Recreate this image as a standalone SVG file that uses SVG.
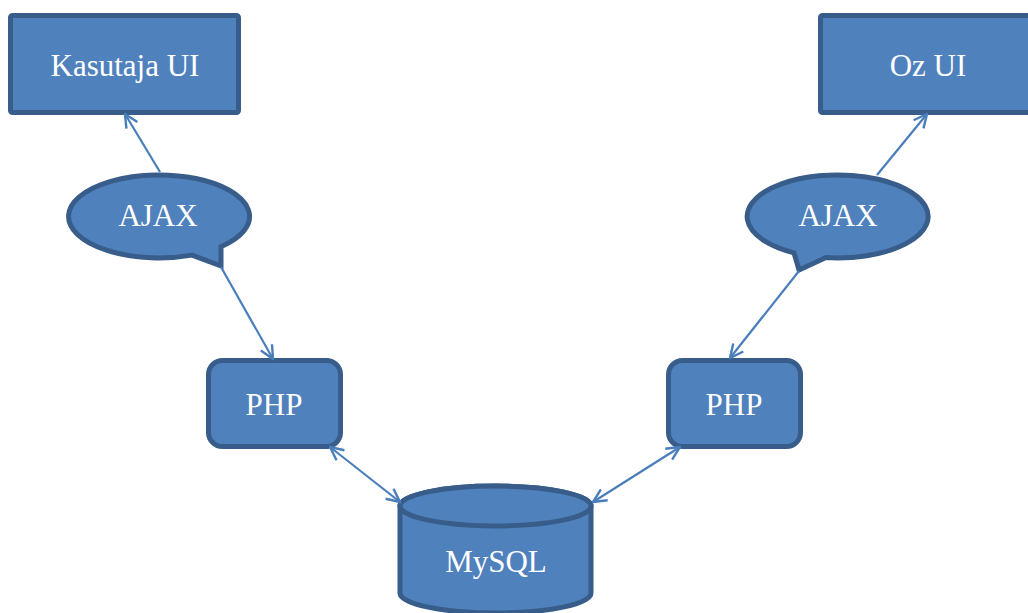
<svg xmlns="http://www.w3.org/2000/svg" width="1028" height="613" viewBox="0 0 1028 613">
<style>
.shape{fill:#4F81BD;stroke:#385D8A;stroke-width:5}
.lbl{font-family:"Liberation Serif","Times New Roman",serif;font-size:31px;fill:#FFFFFF;text-anchor:middle}
.conn{fill:none;stroke:#4A7EBB;stroke-width:2.2}
</style>
<defs>
<marker id="arr" viewBox="0 0 12 12" refX="11" refY="6" markerWidth="16" markerHeight="16" markerUnits="userSpaceOnUse" orient="auto-start-reverse">
<path d="M1,1.2 L11,6 L1,10.8" fill="none" stroke="#4A7EBB" stroke-width="1.8"/>
</marker>
</defs>
<rect width="1028" height="613" fill="#FFFFFF"/>
<g id="kasutaja-ui">
<rect class="shape" x="10.5" y="15.5" width="228" height="97" rx="2"/>
<text class="lbl" x="125" y="76">Kasutaja UI</text>
</g>
<g id="oz-ui">
<rect class="shape" x="820.5" y="15.5" width="215" height="97" rx="2"/>
<text class="lbl" x="928" y="76">Oz UI</text>
</g>
<g id="ajax-left">
<path class="shape" d="M221,246.7 A90.5 41.5 0 1 0 192,255.1 L221,266 Z" stroke-linejoin="miter"/>
<text class="lbl" x="158" y="226">AJAX</text>
</g>
<g id="ajax-right">
<path class="shape" d="M826,257.6 A90.5 41.5 0 1 0 794,252.8 L799,270 Z" stroke-linejoin="miter"/>
<text class="lbl" x="838" y="226">AJAX</text>
</g>
<g id="php-left">
<rect class="shape" x="208.5" y="360.5" width="132" height="86" rx="14"/>
<text class="lbl" x="274" y="415">PHP</text>
</g>
<g id="php-right">
<rect class="shape" x="668.5" y="360.5" width="132" height="86" rx="14"/>
<text class="lbl" x="734" y="415">PHP</text>
</g>
<g id="mysql">
<path class="shape" d="M400,506 L400,593 A95.5 20 0 0 0 591,593 L591,506 A95.5 20 0 0 0 400,506 Z"/>
<ellipse class="shape" cx="495.5" cy="506" rx="95.5" ry="20"/>
<text class="lbl" x="496" y="572">MySQL</text>
</g>
<g id="connectors">
<line class="conn" x1="160" y1="172" x2="125" y2="114" marker-end="url(#arr)"/>
<line class="conn" x1="221" y1="267" x2="273" y2="359" marker-end="url(#arr)"/>
<line class="conn" x1="877" y1="175" x2="927" y2="114" marker-end="url(#arr)"/>
<line class="conn" x1="799" y1="271" x2="730" y2="358" marker-end="url(#arr)"/>
<line class="conn" x1="330" y1="447" x2="400" y2="502" marker-start="url(#arr)" marker-end="url(#arr)"/>
<line class="conn" x1="680" y1="447" x2="593" y2="502" marker-start="url(#arr)" marker-end="url(#arr)"/>
</g>
</svg>
